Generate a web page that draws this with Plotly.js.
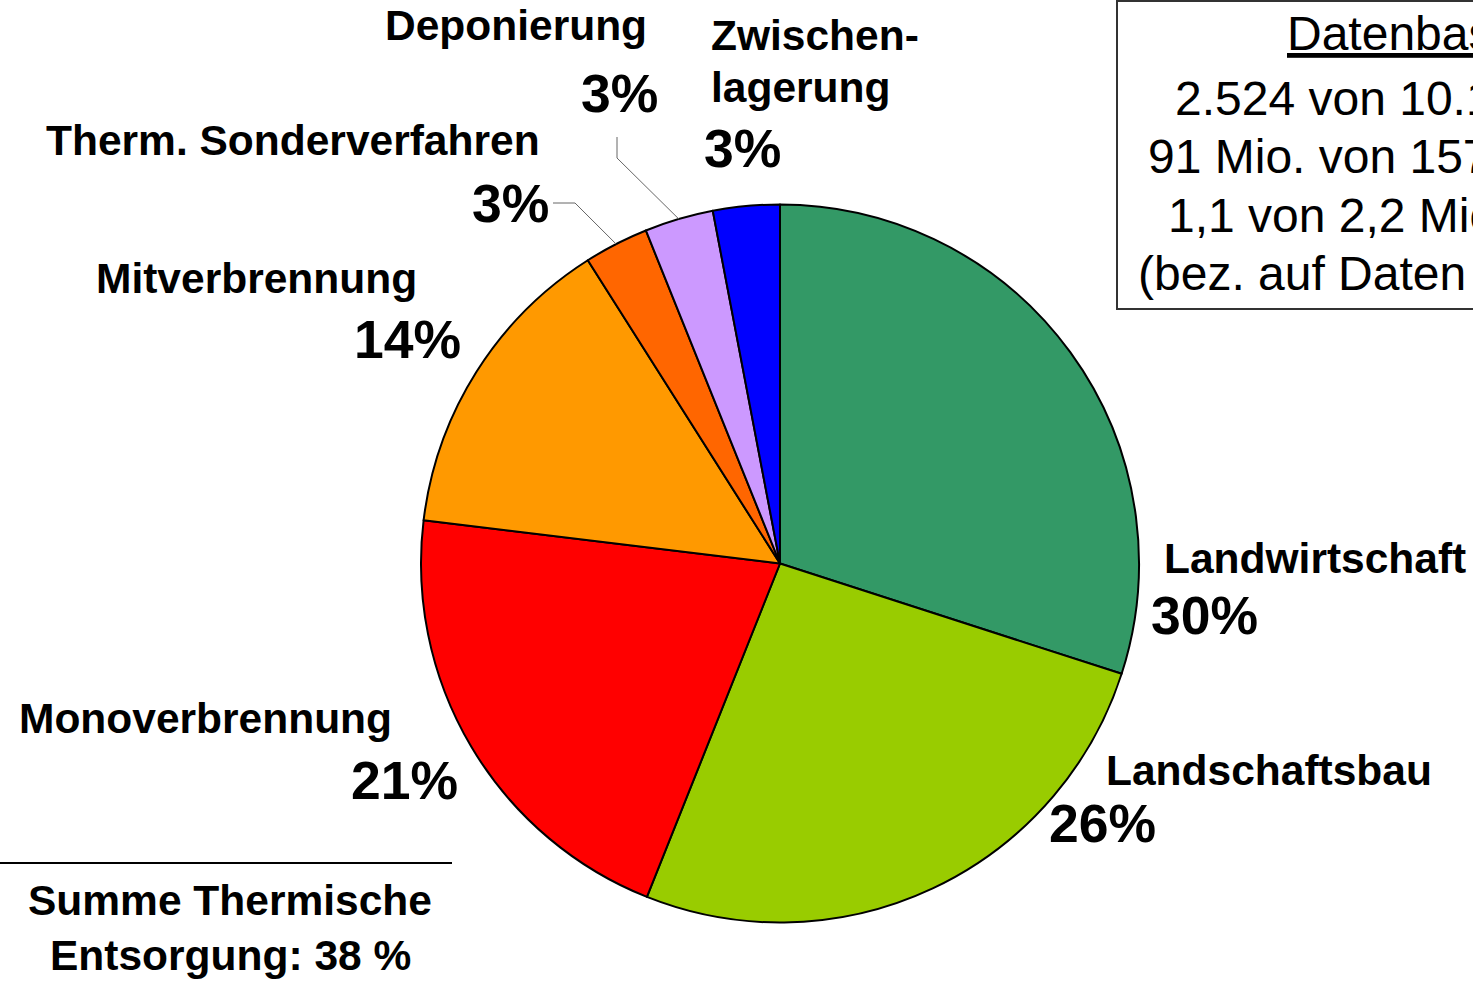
<!DOCTYPE html>
<html>
<head>
<meta charset="utf-8">
<script src="https://cdn.plot.ly/plotly-3.0.1.min.js"></script>
<style>html,body{margin:0;padding:0;background:#fff;overflow:hidden}#chart{width:1473px;height:981px}</style>
</head>
<body>
<div id="chart"></div>
<script>
// ---- data ----
const categories = ['Landwirtschaft', 'Landschaftsbau', 'Monoverbrennung', 'Mitverbrennung', 'Therm. Sonderverfahren', 'Deponierung', 'Zwischenlagerung'];
const shares = [30.0, 26.1, 20.9, 14.1, 2.9, 3.1, 3.0];
const percentLabels = ['30%', '26%', '21%', '14%', '3%', '3%', '3%'];
const labelLines = [['Landwirtschaft'], ['Landschaftsbau'], ['Monoverbrennung'], ['Mitverbrennung'], ['Therm. Sonderverfahren'], ['Deponierung'], ['Zwischen-', 'lagerung']];
const sliceColors = ['#339966', '#99CC00', '#FF0000', '#FF9900', '#FF6600', '#CC99FF', '#0000FF'];
const summaryLines = ['Summe Thermische', 'Entsorgung: 38 %'];
const infoLines = ['<u>Datenbasis:</u>', '2.524 von 10.192 Kläranlagen', '91 Mio. von 157 Mio. EW', '1,1 von 2,2 Mio. t TS', '(bez. auf Daten 2001)'];

// ---- layout constants (pixels) ----
const W = 1473, H = 981;
const CX = 780, CY = 563.5, R = 359;
const FONT = 'Liberation Sans, Arial, Helvetica, sans-serif';
const LBL = 42.5, PCT = 53.5, INFO = 48;

// label placement: [x, baseline, anchor] for name lines, then percent
const namePos = [
  [[1164, 573, 'left']],
  [[1106, 785, 'left']],
  [[19, 733, 'left']],
  [[96, 293, 'left']],
  [[46, 155, 'left']],
  [[647, 40, 'right']],
  [[711, 50, 'left'], [711, 102, 'left']]
];
const pctPos = [
  [1151, 634, 'left'],
  [1049, 842, 'left'],
  [458, 799, 'right'],
  [461, 358, 'right'],
  [549, 222, 'right'],
  [658, 112, 'right'],
  [704, 167, 'left']
];
// leader line label-side points for small slices (index -> points)
const leaderStart = { 4: [[553, 203], [575, 203]], 5: [[617, 137], [617, 158]] };

const px = x => x / W;
const py = y => 1 - y / H;

function ann(text, x, baseline, anchor, size, bold) {
  return {
    xref: 'paper', yref: 'paper',
    x: px(x), y: py(baseline - 0.3465 * size),
    xanchor: anchor, yanchor: 'middle',
    text: text, showarrow: false, borderpad: 0, borderwidth: 0,
    font: { family: FONT, size: size, color: '#000', weight: bold ? 'bold' : 'normal' }
  };
}

const annotations = [];
categories.forEach((c, i) => {
  labelLines[i].forEach((t, j) => {
    const p = namePos[i][j];
    annotations.push(ann(t, p[0], p[1], p[2], LBL, true));
  });
  const q = pctPos[i];
  annotations.push(ann(percentLabels[i], q[0], q[1], q[2], PCT, true));
});
// summary text (centered)
annotations.push(ann(summaryLines[0], 230, 915, 'center', LBL, true));
annotations.push(ann(summaryLines[1], 230, 970, 'center', LBL, true));
// info box text
const infoX = [1287, 1175, 1148, 1168, 1138];
const infoBase = [50, 115, 173, 232, 290];
infoLines.forEach((t, i) => annotations.push(ann(t, infoX[i], infoBase[i], 'left', INFO, false)));

// leader lines computed from slice mid-angles
const total = shares.reduce((a, b) => a + b, 0);
const shapes = [];
let cum = 0;
shares.forEach((v, i) => {
  const mid = (cum + v / 2) / total * 2 * Math.PI;
  cum += v;
  if (leaderStart[i]) {
    const ex = CX + R * Math.sin(mid), ey = CY - R * Math.cos(mid);
    const pts = leaderStart[i].concat([[ex, ey]]);
    let path = '';
    pts.forEach((p, k) => { path += (k ? ' L ' : 'M ') + px(p[0]) + ',' + py(p[1]); });
    shapes.push({ type: 'path', xref: 'paper', yref: 'paper', path: path, line: { color: '#666666', width: 1 } });
  }
});
// separator line above summary
shapes.push({ type: 'line', xref: 'paper', yref: 'paper', x0: px(0), x1: px(452), y0: py(863), y1: py(863), line: { color: '#000', width: 2 } });
// info box
shapes.push({ type: 'rect', xref: 'paper', yref: 'paper', x0: px(1117), x1: px(1490), y0: py(1), y1: py(309), line: { color: '#333333', width: 2 }, fillcolor: 'rgba(0,0,0,0)' });

const trace = {
  type: 'pie',
  labels: categories,
  values: shares,
  sort: false,
  direction: 'clockwise',
  rotation: 0,
  textinfo: 'none',
  hoverinfo: 'skip',
  marker: { colors: sliceColors, line: { color: '#000', width: 2 } },
  domain: { x: [px(CX - R), px(CX + R)], y: [py(CY + R), py(CY - R)] }
};

const layout = {
  width: W, height: H,
  margin: { l: 0, r: 0, t: 0, b: 0, pad: 0 },
  paper_bgcolor: '#fff',
  showlegend: false,
  annotations: annotations,
  shapes: shapes
};

Plotly.newPlot('chart', [trace], layout, { staticPlot: true, displayModeBar: false });
</script>
</body>
</html>
